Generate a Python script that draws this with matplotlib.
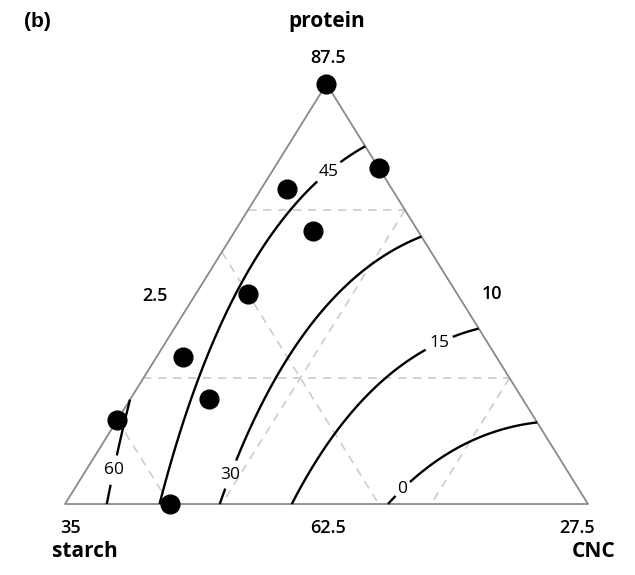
import numpy as np
import matplotlib
matplotlib.use("Agg")
import matplotlib.pyplot as plt
import matplotlib.tri as mtri

plt.rcParams['font.family'] = ['Open Sans', 'DejaVu Sans']

# component bounds (real units), each range is 25
prot_lo, starch_lo, cnc_lo = 62.5, 10.0, 2.5
rng = 25.0

# design points (real units)
protein = [87.5, 82.5, 81.25, 78.75, 75, 71.25, 68.75, 67.5, 62.5]
starch = [10, 10, 15, 15, 20, 25, 25, 30, 30]
cnc = [2.5, 7.5, 3.75, 6.25, 5, 3.75, 6.25, 2.5, 7.5]

# fitted quadratic mixture model on pseudo components (a=protein, b=starch, c=CNC)
b_a, b_b, b_c = 55.5, 73.1, -12.8
b_ab, b_ac, b_bc = -46.7, -3.0, -84.9
levels = [0, 15, 30, 45, 60]

# gridline values (real units)
grid_prot = [70, 80]
grid_starch = [20, 30]
grid_cnc = [10, 20]

# vertex / edge labels
vertex_labels = ['87.5', '35', '27.5']
edge_labels = ['2.5', '10', '62.5']


def to_xy(a, b, c):
    a = np.asarray(a, float)
    c = np.asarray(c, float)
    return c + 0.5 * a, a


fig = plt.figure(figsize=(6.35, 5.75), dpi=100)
ax = fig.add_axes([0, 0, 1, 1])
ax.set_xlim(-0.1243, 1.0899)
ax.set_ylim(-0.169, 1.2)
ax.axis('off')

# dashed grid
for p in grid_prot:
    a = (p - prot_lo) / rng
    x, y = to_xy([a, a], [1 - a, 0], [0, 1 - a])
    ax.plot(x, y, ls=(0, (5, 4)), color='#cccccc', lw=1.2, zorder=1)
for s in grid_starch:
    b = (s - starch_lo) / rng
    x, y = to_xy([1 - b, 0], [b, b], [0, 1 - b])
    ax.plot(x, y, ls=(0, (5, 4)), color='#cccccc', lw=1.2, zorder=1)
for k in grid_cnc:
    c = (k - cnc_lo) / rng
    x, y = to_xy([1 - c, 0], [0, 1 - c], [c, c])
    ax.plot(x, y, ls=(0, (5, 4)), color='#cccccc', lw=1.2, zorder=1)

# triangle outline
x, y = to_xy([1, 0, 0, 1], [0, 1, 0, 0], [0, 0, 1, 0])
ax.plot(x, y, color='#8a8a8a', lw=1.3, zorder=2)

# response surface
n = 120
aa, cc = [], []
for i in range(n + 1):
    for j in range(n + 1 - i):
        aa.append(i / n)
        cc.append(j / n)
aa = np.array(aa)
cc = np.array(cc)
bb = 1 - aa - cc
z = (b_a * aa + b_b * bb + b_c * cc + b_ab * aa * bb
     + b_ac * aa * cc + b_bc * bb * cc)
gx, gy = to_xy(aa, bb, cc)
tri = mtri.Triangulation(gx, gy)
cs = ax.tricontour(tri, z, levels=levels, colors='black', linewidths=1.7, zorder=3)
label_pos = [(0.644, 0.038), (0.717, 0.379), (0.319, 0.069), (0.505, 0.79), (0.092, 0.081)]
lbls = ax.clabel(cs, fmt='%d', fontsize=12.5, inline=True, inline_spacing=5, manual=label_pos)
for t in lbls:
    t.set_rotation(0)

# design points
pa = (np.array(protein) - prot_lo) / rng
pb = (np.array(starch) - starch_lo) / rng
pc = (np.array(cnc) - cnc_lo) / rng
px, py = to_xy(pa, pb, pc)
ax.plot(px, py, 'o', color='black', ms=13.5, zorder=4, clip_on=False)

# labels
num_kw = dict(ha='center', va='center', fontsize=13, fontweight='semibold')
ax.text(0.503, 1.062, vertex_labels[0], **num_kw)
ax.text(0.0096, -0.057, vertex_labels[1], **num_kw)
ax.text(0.979, -0.057, vertex_labels[2], **num_kw)
ax.text(0.172, 0.495, edge_labels[0], **num_kw)
ax.text(0.816, 0.5, edge_labels[1], **num_kw)
ax.text(0.503, -0.057, edge_labels[2], **num_kw)

ax.text(0.501, 1.148, 'protein', ha='center', va='center', fontsize=15, fontweight='bold')
ax.text(0.038, -0.114, 'starch', ha='center', va='center', fontsize=15, fontweight='bold')
ax.text(1.011, -0.114, 'CNC', ha='center', va='center', fontsize=15, fontweight='bold')
ax.text(-0.052, 1.148, '(b)', ha='center', va='center', fontsize=15, fontweight='bold',
        family=['Liberation Sans', 'DejaVu Sans'])

fig.savefig('out.png', dpi=100)
